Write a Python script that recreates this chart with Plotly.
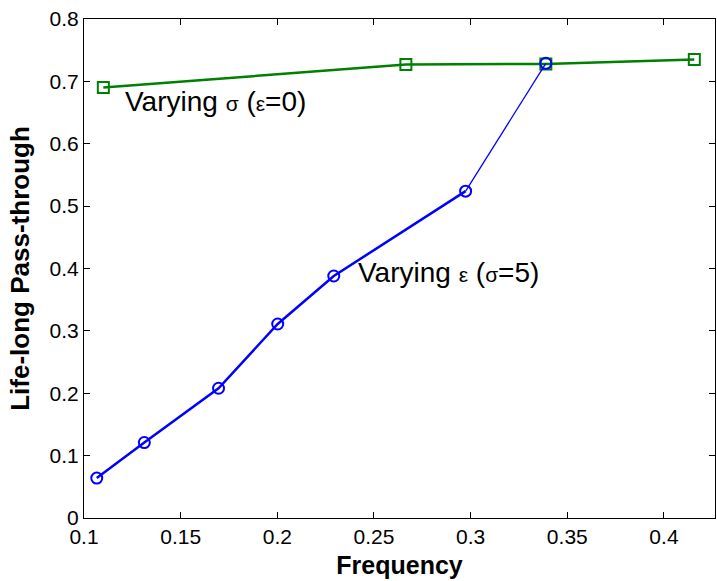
import plotly.graph_objects as go

# Data
eps_x = [0.1066, 0.1312, 0.1696, 0.2002, 0.2292, 0.2974, 0.3389]
eps_y = [0.064, 0.121, 0.208, 0.311, 0.388, 0.524, 0.729]

sig_x = [0.1100, 0.2665, 0.3389, 0.4157]
sig_y = [0.690, 0.727, 0.728, 0.735]

x_ticks = [0.1, 0.15, 0.2, 0.25, 0.3, 0.35, 0.4]
x_tick_labels = ["0.1", "0.15", "0.2", "0.25", "0.3", "0.35", "0.4"]
y_ticks = [0, 0.1, 0.2, 0.3, 0.4, 0.5, 0.6, 0.7, 0.8]
y_tick_labels = ["0", "0.1", "0.2", "0.3", "0.4", "0.5", "0.6", "0.7", "0.8"]

BLUE = "#0000ff"
GREEN = "#008000"
FONT = "Liberation Sans, Arial, sans-serif"
GK = '<span style="font-size:21px">{}</span>'

fig = go.Figure()

fig.add_trace(go.Scatter(
    x=sig_x, y=sig_y, mode="lines+markers",
    line=dict(color=GREEN, width=2.5),
    marker=dict(symbol="square-open", size=11, color=GREEN, line=dict(width=2, color=GREEN)),
    showlegend=False))

fig.add_trace(go.Scatter(
    x=eps_x[-2:], y=eps_y[-2:], mode="lines",
    line=dict(color=BLUE, width=1.3), showlegend=False))

fig.add_trace(go.Scatter(
    x=eps_x[:-1], y=eps_y[:-1], mode="lines+markers",
    line=dict(color=BLUE, width=2.5),
    marker=dict(symbol="circle-open", size=11, color=BLUE, line=dict(width=2, color=BLUE)),
    showlegend=False))

fig.add_trace(go.Scatter(
    x=eps_x[-1:], y=eps_y[-1:], mode="markers",
    marker=dict(symbol="circle-open", size=11, color=BLUE, line=dict(width=2, color=BLUE)),
    showlegend=False))

fig.add_annotation(x=0.1202, y=0.668,
                   text="Varying " + GK.format("\u03c3") + " (" + GK.format("\u03b5") + "=0)",
                   showarrow=False, xanchor="left", yanchor="middle",
                   font=dict(family=FONT, size=28, color="black"))
fig.add_annotation(x=0.2405, y=0.393,
                   text="Varying " + GK.format("\u03b5") + " (" + GK.format("\u03c3") + "=5)",
                   showarrow=False, xanchor="left", yanchor="middle",
                   font=dict(family=FONT, size=28, color="black"))

axis_common = dict(showline=True, linecolor="black", linewidth=1, mirror="ticks",
                   ticks="inside", ticklen=6, tickcolor="black", showgrid=False, zeroline=False,
                   tickfont=dict(family=FONT, size=21, color="black"))

fig.update_xaxes(range=[0.1, 0.4264], tickvals=x_ticks, ticktext=x_tick_labels,
                 title=dict(text="<b>Frequency</b>", font=dict(family=FONT, size=25, color="black"), standoff=9),
                 **axis_common)
fig.update_yaxes(range=[0, 0.8], tickvals=y_ticks, ticktext=y_tick_labels,
                 title=dict(text="<b>Life-long Pass-through</b>", font=dict(family=FONT, size=26, color="black"), standoff=12),
                 **axis_common)

fig.update_layout(width=717, height=581, margin=dict(l=84, r=2, t=19, b=63),
                  paper_bgcolor="white", plot_bgcolor="white")

fig.write_html("out.html")
